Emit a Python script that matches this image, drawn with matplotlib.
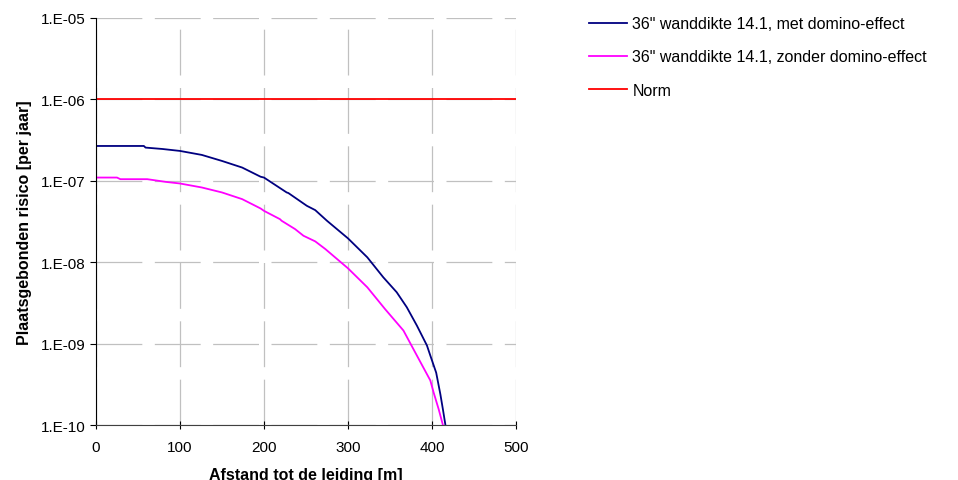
import matplotlib.pyplot as plt
import numpy as np

plt.rcParams['font.family'] = ['Liberation Sans', 'DejaVu Sans']
plt.rcParams['lines.scale_dashes'] = False

x_met = [0, 57, 59, 79, 100, 126, 150, 174, 196, 200, 227, 229, 251, 261, 275,
         300, 323, 342, 358, 370, 382, 394, 398, 405, 410, 413, 416]
log_met = [-6.572, -6.572, -6.592, -6.609, -6.633, -6.682, -6.756, -6.837, -6.95,
           -6.96, -7.143, -7.15, -7.307, -7.36, -7.491, -7.707, -7.940, -8.185,
           -8.369, -8.553, -8.778, -9.023, -9.146, -9.357, -9.623, -9.807, -10.0]
x_zonder = [0, 25, 29, 61, 83, 100, 126, 150, 174, 196, 200, 219, 221, 237, 247,
            261, 273, 300, 323, 344, 366, 382, 398, 402, 408, 413]
log_zonder = [-6.960, -6.960, -6.980, -6.980, -7.013, -7.033, -7.082, -7.143,
              -7.225, -7.34, -7.369, -7.471, -7.491, -7.593, -7.675, -7.744,
              -7.838, -8.075, -8.308, -8.574, -8.839, -9.146, -9.452, -9.602,
              -9.807, -10.0]
x_norm = [0, 500]
norm = [1e-6, 1e-6]

fig = plt.figure(figsize=(9.58, 4.81), dpi=100)
ax = fig.add_axes([0.1002, 0.1143, 0.4384, 0.8462])

ax.plot(x_met, 10 ** np.array(log_met), color='#000080', lw=1.3,
        label='36" wanddikte 14.1, met domino-effect')
ax.plot(x_zonder, 10 ** np.array(log_zonder), color='#FF00FF', lw=1.3,
        label='36" wanddikte 14.1, zonder domino-effect')
ax.plot(x_norm, norm, color='#FF0000', lw=1.3, label='Norm')

ax.set_yscale('log')
ax.set_xlim(0, 500)
ax.set_ylim(1e-10, 1e-5)
ax.set_xticks([0, 100, 200, 300, 400, 500])
yt = [1e-10, 1e-9, 1e-8, 1e-7, 1e-6, 1e-5]
ax.set_yticks(yt)
ax.set_yticklabels(['1.E-10', '1.E-09', '1.E-08', '1.E-07', '1.E-06', '1.E-05'])
ax.minorticks_off()
ax.tick_params(axis='both', labelsize=11)
ax.tick_params(axis='x', direction='inout', length=6, pad=8)
ax.tick_params(axis='y', direction='out', length=4)

ax.grid(True, color='#C0C0C0', lw=0.9, linestyle=(0, (33, 9)))
ax.set_axisbelow(True)
for s in ['top', 'right']:
    ax.spines[s].set_visible(False)
ax.spines['bottom'].set_color('#404040')

ax.set_xlabel('Afstand tot de leiding [m]', fontsize=11.5, fontweight='bold', labelpad=9)
ax.set_ylabel('Plaatsgebonden risico [per jaar]', fontsize=11.5, fontweight='bold', labelpad=6)

ax.legend(loc='upper left', bbox_to_anchor=(1.14, 1.04), frameon=False, fontsize=11.5,
          handlelength=2.4, handletextpad=0.3, labelspacing=1.15)

fig.savefig('out.png', dpi=100)
